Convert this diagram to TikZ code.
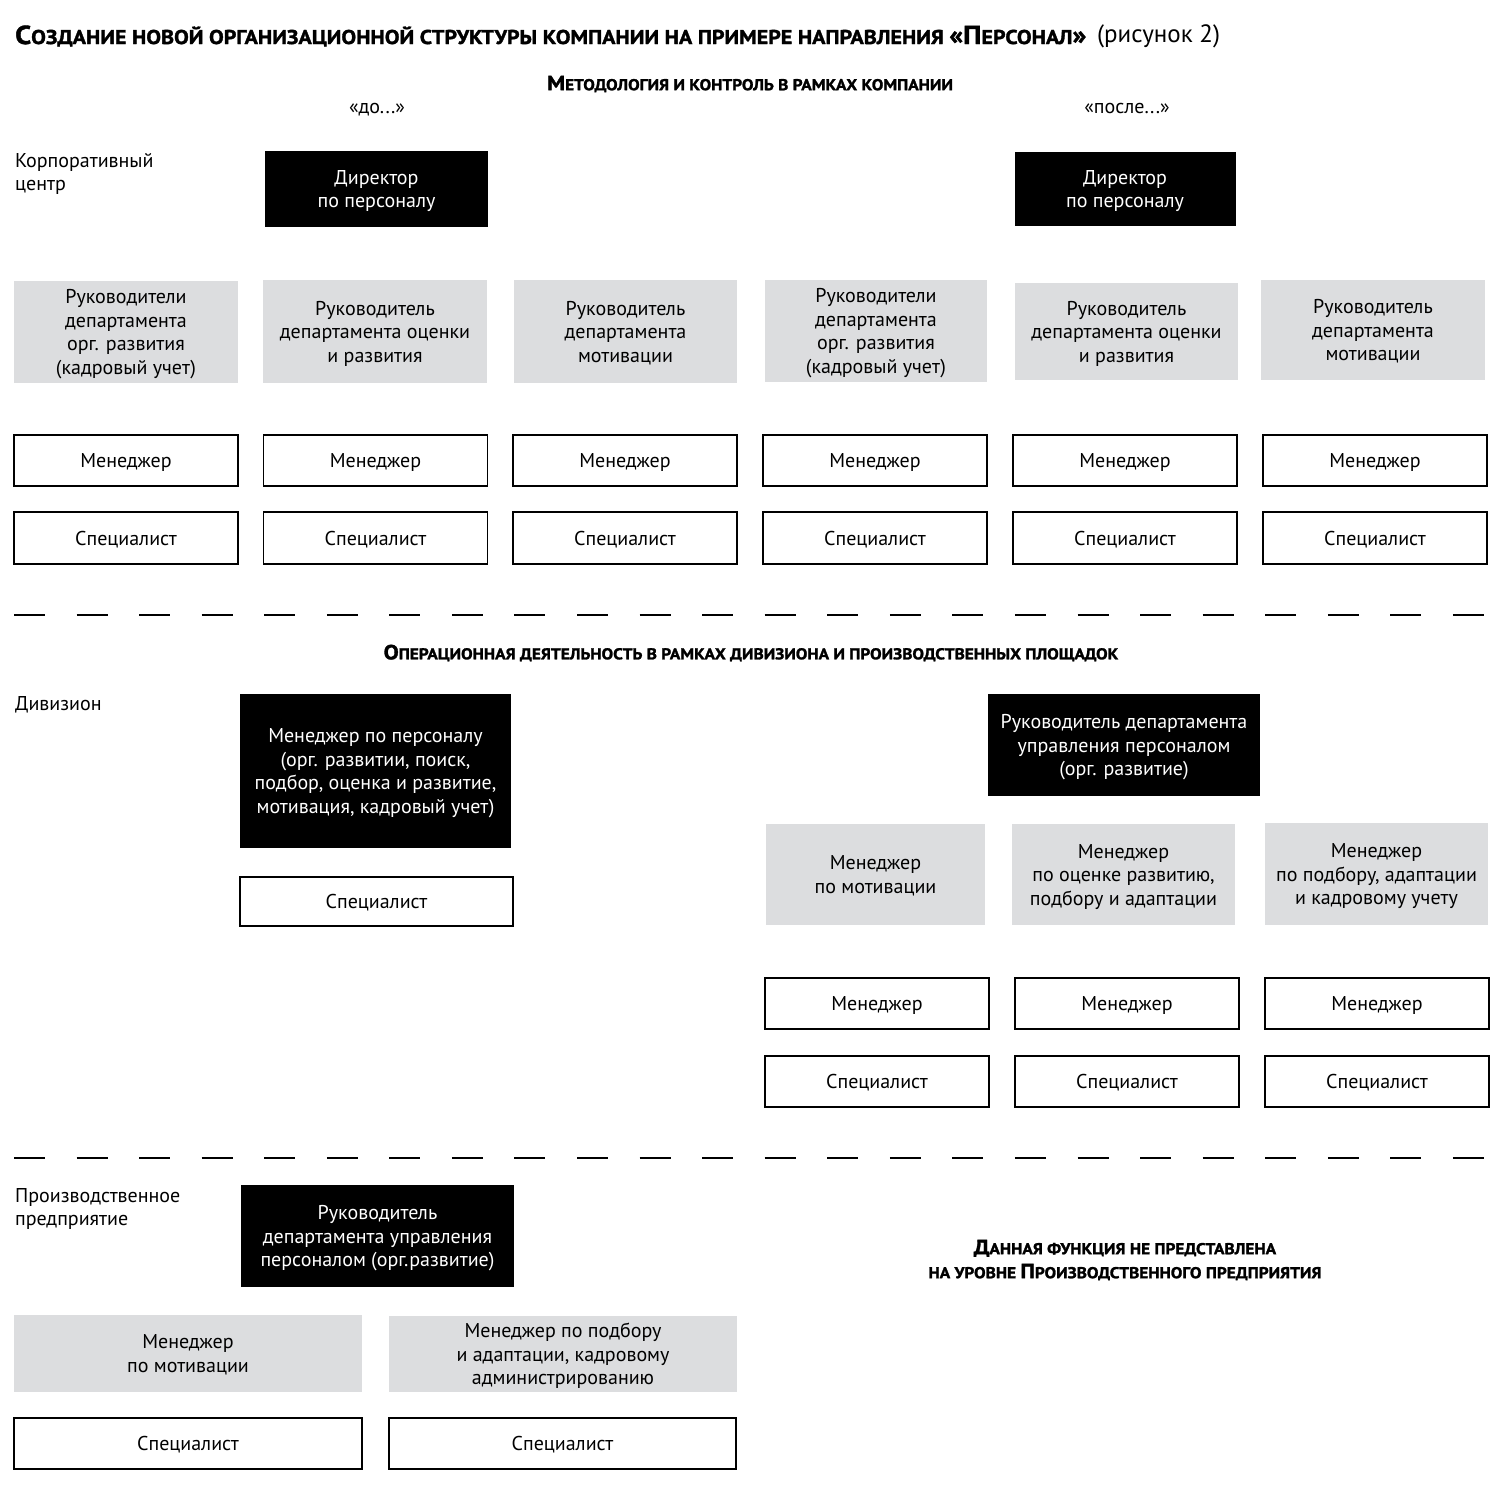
\documentclass[tikz,border=0pt]{standalone}
\usepackage{fontspec}
\setmainfont{PT Sans}
\newfontfamily\hfont[FakeStretch=1.1, BoldFeatures={FakeBold=1.6}]{PT Sans}
\newcommand\capT[1]{{\fontsize{26}{26}\selectfont #1}}
\newcommand\capH[1]{{\fontsize{20.5}{20.5}\selectfont #1}}
\definecolor{boxgray}{HTML}{DCDDDF}
\begin{document}
\begin{tikzpicture}[x=1pt,y=-1pt,
  body/.style={font=\fontsize{20}{23.5}\selectfont, align=center, inner sep=0pt, text depth=0pt},
  blackbox/.style={body, fill=black, text=white},
  graybox/.style={body, fill=boxgray},
  whitebox/.style={body, draw=black, line width=1.2pt},
  head/.style={font=\hfont\bfseries\fontsize{15.7}{15.7}\selectfont, align=center, inner sep=0pt},
  lbl/.style={body, align=left, anchor=west},
  sep/.style={line width=1.3pt, dash pattern=on 31pt off 31.56pt}]
\useasboundingbox (0,0) rectangle (1500,1490);
\fill[white] (0,0) rectangle (1500,1490);

% title
\node[anchor=west, inner sep=0pt, font=\hfont\bfseries\fontsize{20}{20}\selectfont] (title) at (15,36)
  {\capT{С}ОЗДАНИЕ НОВОЙ ОРГАНИЗАЦИОННОЙ СТРУКТУРЫ КОМПАНИИ НА ПРИМЕРЕ НАПРАВЛЕНИЯ \capT{«П}ЕРСОНАЛ\capT{»}};
\node[anchor=west, inner sep=0pt, font=\fontsize{25}{25}\selectfont] (fig) at (1097,36) {(рисунок 2)};

\node[head] (meth) at (750,84) {\capH{М}ЕТОДОЛОГИЯ И КОНТРОЛЬ В РАМКАХ КОМПАНИИ};
\node[body] (before) at (377,108) {«до...»};
\node[body] (after) at (1127,108) {«после...»};
\node[lbl] (corp) at (15,172) {Корпоративный\\центр};

% directors
\node[blackbox, minimum width=223pt, minimum height=76pt] (dirA) at (376.5,189) {Директор\\по персоналу};
\node[blackbox, minimum width=221pt, minimum height=74pt] (dirB) at (1125,189) {Директор\\по персоналу};

% heads of departments
\node[graybox, minimum width=224pt, minimum height=102pt] (gA1) at (126,332) {Руководители\\департамента\\орг. развития\\(кадровый учет)};
\node[graybox, minimum width=224pt, minimum height=103pt] (gA2) at (375,331.5) {Руководитель\\департамента оценки\\и развития};
\node[graybox, minimum width=223pt, minimum height=103pt] (gA3) at (625.5,331.5) {Руководитель\\департамента\\мотивации};
\node[graybox, minimum width=222pt, minimum height=102pt] (gB1) at (876,331) {Руководители\\департамента\\орг. развития\\(кадровый учет)};
\node[graybox, minimum width=223pt, minimum height=97pt] (gB2) at (1126.5,331.5) {Руководитель\\департамента оценки\\и развития};
\node[graybox, minimum width=224pt, minimum height=100pt] (gB3) at (1373,330) {Руководитель\\департамента\\мотивации};

% managers and specialists
\foreach \x/\n in {126/1,375.5/2,625/3,875/4,1125/5,1375/6}{
  \node[whitebox, minimum width=224pt, minimum height=51pt] (man\n) at (\x,460.5) {Менеджер};
  \node[whitebox, minimum width=224pt, minimum height=52pt] (spec\n) at (\x,538) {Специалист};
}

% separator 1
\coordinate (s1a) at (14,615);
\coordinate (s1b) at (1486,615);
\draw[sep] (s1a) -- (s1b);

\node[head] (oper) at (751,653) {\capH{О}ПЕРАЦИОННАЯ ДЕЯТЕЛЬНОСТЬ В РАМКАХ ДИВИЗИОНА И ПРОИЗВОДСТВЕННЫХ ПЛОЩАДОК};
\node[lbl] (div) at (15,703) {Дивизион};

\node[blackbox, minimum width=271pt, minimum height=154pt] (divmgr) at (375.5,771)
  {Менеджер по персоналу\\(орг. развитии, поиск,\\подбор, оценка и развитие,\\мотивация, кадровый учет)};
\node[whitebox, minimum width=273pt, minimum height=49pt] (divspec) at (376.5,901.5) {Специалист};

\node[blackbox, minimum width=272pt, minimum height=102pt] (divhead) at (1124,745)
  {Руководитель департамента\\управления персоналом\\(орг. развитие)};
\node[graybox, minimum width=219pt, minimum height=101pt] (dg1) at (875.5,874.5) {Менеджер\\по мотивации};
\node[graybox, minimum width=223pt, minimum height=101pt] (dg2) at (1123.5,874.5) {Менеджер\\по оценке развитию,\\подбору и адаптации};
\node[graybox, minimum width=223pt, minimum height=102pt] (dg3) at (1376.5,874) {Менеджер\\по подбору, адаптации\\и кадровому учету};
\foreach \x/\n in {877/1,1127/2,1377/3}{
  \node[whitebox, minimum width=224pt, minimum height=51pt] (dman\n) at (\x,1003.5) {Менеджер};
  \node[whitebox, minimum width=224pt, minimum height=51pt] (dspec\n) at (\x,1081.5) {Специалист};
}

% separator 2
\coordinate (s2a) at (14,1158);
\coordinate (s2b) at (1486,1158);
\draw[sep] (s2a) -- (s2b);

\node[lbl] (plant) at (15,1207) {Производственное\\предприятие};
\node[blackbox, minimum width=273pt, minimum height=102pt] (phead) at (377.5,1236)
  {Руководитель\\департамента управления\\персоналом (орг.развитие)};
\node[graybox, minimum width=348pt, minimum height=77pt] (pg1) at (188,1353.5) {Менеджер\\по мотивации};
\node[graybox, minimum width=348pt, minimum height=76pt] (pg2) at (563,1354) {Менеджер по подбору\\и адаптации, кадровому\\администрированию};
\node[whitebox, minimum width=348pt, minimum height=51pt] (ps1) at (188,1443.5) {Специалист};
\node[whitebox, minimum width=347pt, minimum height=51pt] (ps2) at (562.5,1443.5) {Специалист};

\node[head, font=\hfont\bfseries\fontsize{15.7}{24}\selectfont] (note) at (1125,1260)
  {\capH{Д}АННАЯ ФУНКЦИЯ НЕ ПРЕДСТАВЛЕНА\\НА УРОВНЕ \capH{П}РОИЗВОДСТВЕННОГО ПРЕДПРИЯТИЯ};
\end{tikzpicture}
\end{document}
